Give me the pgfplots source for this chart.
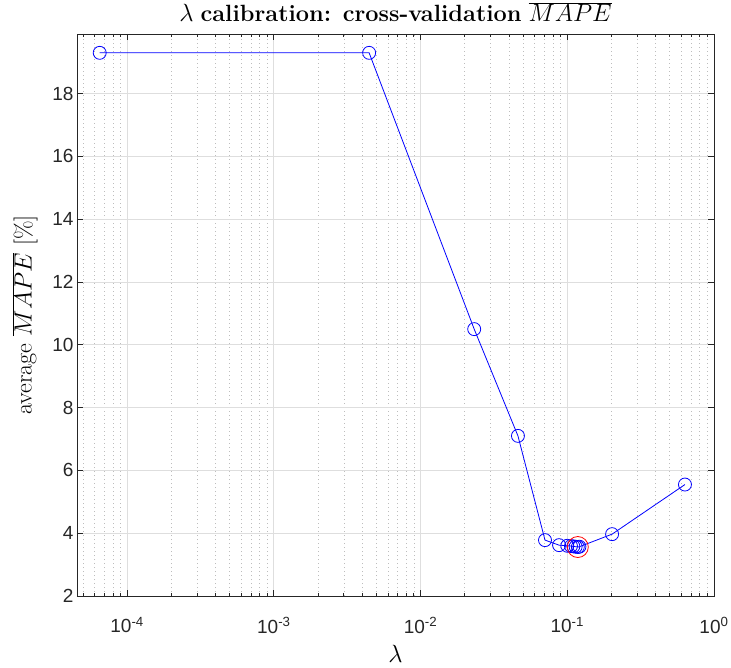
\documentclass[border=0pt]{standalone}
\usepackage{pgfplots}
\pgfplotsset{compat=1.18}
\usepackage{fontspec}
\newfontfamily\hel{Liberation Sans}
\definecolor{gridmaj}{gray}{0.87}
\definecolor{gridmin}{gray}{0.74}
\begin{document}
\begin{tikzpicture}[x=1pt,y=1pt]
\path[use as bounding box] (-77pt,-71pt) rectangle (654pt,596pt);
\begin{axis}[
  at={(0pt,0pt)}, anchor=south west,
  scale only axis, width=637pt, height=562pt,
  xmode=log, log basis x=10,
  xmin=4.55e-5, xmax=1,
  ymin=2, ymax=19.9,
  xtick={1e-4,1e-3,1e-2,1e-1,1},
  xticklabels={10\textsuperscript{-4},10\textsuperscript{-3},10\textsuperscript{-2},10\textsuperscript{-1},10\textsuperscript{0}},
  minor xtick={5e-5,6e-5,7e-5,8e-5,9e-5,
    2e-4,3e-4,4e-4,5e-4,6e-4,7e-4,8e-4,9e-4,
    2e-3,3e-3,4e-3,5e-3,6e-3,7e-3,8e-3,9e-3,
    2e-2,3e-2,4e-2,5e-2,6e-2,7e-2,8e-2,9e-2,
    2e-1,3e-1,4e-1,5e-1,6e-1,7e-1,8e-1,9e-1},
  ytick={2,4,...,18},
  /pgf/number format/assume math mode=true,
  tick label style={font=\hel\fontsize{19}{19}\selectfont, text=black!85},
  xticklabel style={yshift=-18pt},
  tick align=inside, tickpos=both,
  major tick length=6pt, minor tick length=3.5pt,
  xmajorgrids, xminorgrids, ymajorgrids,
  major grid style={gridmaj, line width=0.8pt},
  minor grid style={gridmin, dash pattern=on 1pt off 3pt, line width=0.7pt},
  axis line style={black!85, line width=0.8pt},
  every tick/.style={black!85, line width=0.8pt},
  xlabel={\fontsize{23}{23}\selectfont$\lambda$},
  ylabel={\fontsize{24}{24}\selectfont average $\overline{MAPE}$ [\%]},
  title={\fontsize{23.5}{25}\selectfont $\lambda$ \textbf{calibration: cross-validation} $\overline{MAPE}$},
  xlabel style={at={(axis description cs:0.5,0)}, anchor=center, yshift=-58pt},
  ylabel style={at={(axis description cs:0,0.5)}, anchor=center, rotate=0, xshift=0pt, yshift=52pt},
  title style={at={(axis description cs:0.5,1)}, anchor=center, yshift=16pt},
]
\addplot[blue, line width=0.8pt, mark=o, mark size=6.5pt, mark options={line width=0.8pt}] coordinates {
(6.5e-5,19.3)
(4.46e-3,19.3)
(0.0232,10.5)
(0.0461,7.1)
(0.0705,3.78)
(0.0879,3.62)
(0.100,3.6)
(0.106,3.59)
(0.110,3.58)
(0.114,3.57)
(0.118,3.56)
(0.121,3.57)
(0.202,3.97)
(0.634,5.55)
};
\addplot[red, only marks, mark=o, mark size=10.5pt, mark options={line width=0.8pt}] coordinates {(0.118,3.56)};
\end{axis}
\end{tikzpicture}
\end{document}
